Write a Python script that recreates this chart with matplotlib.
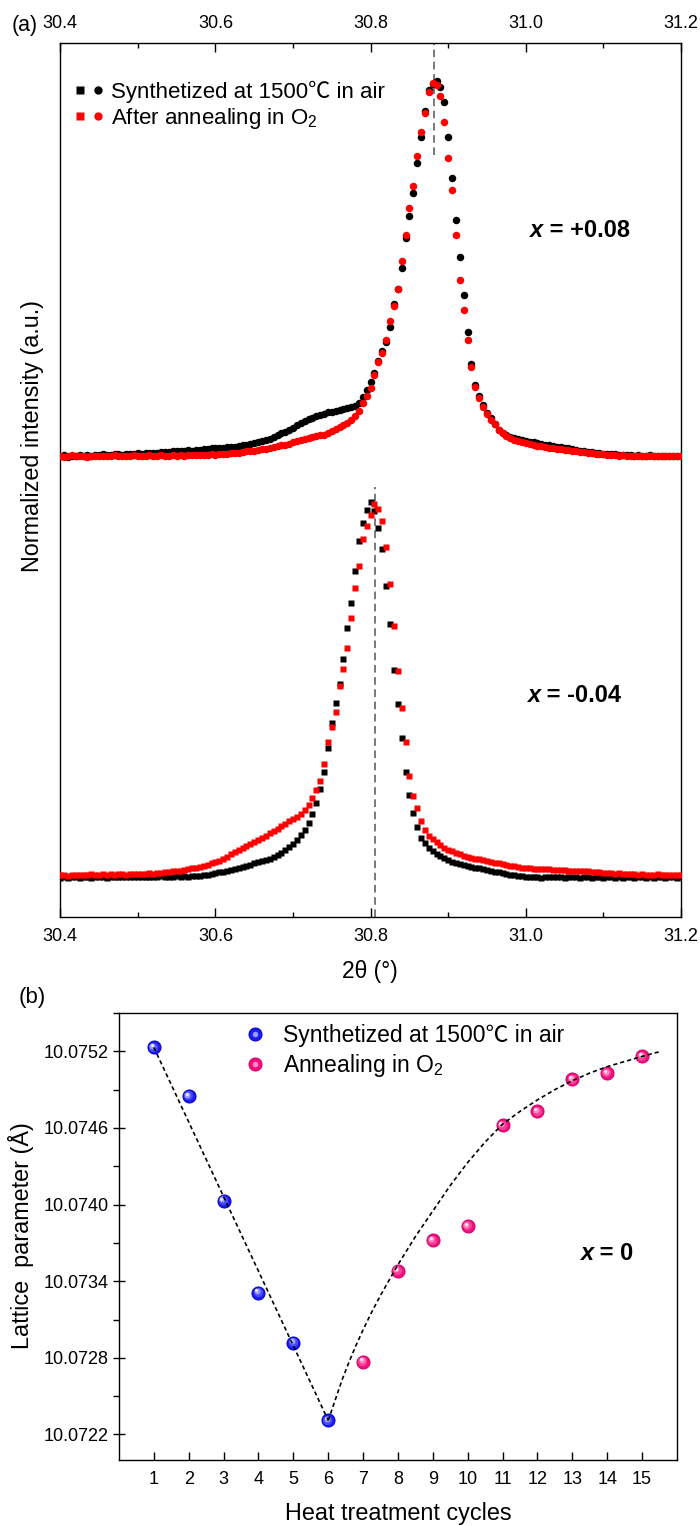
import numpy as np
import matplotlib
matplotlib.use('Agg')
import matplotlib.pyplot as plt
from matplotlib.lines import Line2D
from matplotlib.legend_handler import HandlerTuple
from matplotlib.ticker import MultipleLocator, FixedLocator, FormatStrFormatter
import matplotlib.transforms as mtransforms

plt.rcParams['font.family'] = ['Liberation Sans', 'Noto Sans CJK SC', 'DejaVu Sans']
plt.rcParams['mathtext.fontset'] = 'custom'
plt.rcParams['mathtext.rm'] = 'Liberation Sans'
plt.rcParams['mathtext.it'] = 'Liberation Sans:italic'
plt.rcParams['mathtext.bf'] = 'Liberation Sans:bold'

# ---------------- Panel (a) data: XRD scans (2theta grid 30.40..31.20, step 0.005) ----------------
SCAN_START = 30.40
SCAN_STEP = 0.005
SCAN_POINTS = 161

# x = +0.08 (circles), normalized intensity
top_air = [
    0.000, 0.002, -0.002, 0.001, 0.000, 0.003, 0.000, 0.002, 0.001, 0.003,
    0.002, 0.004, 0.002, 0.003, 0.005, 0.004, 0.003, 0.005, 0.006, 0.005,
    0.007, 0.006, 0.008, 0.007, 0.009, 0.008, 0.010, 0.011, 0.010, 0.012,
    0.013, 0.012, 0.014, 0.015, 0.014, 0.016, 0.017, 0.018, 0.019, 0.020,
    0.020, 0.021, 0.022, 0.023, 0.024, 0.025, 0.027, 0.028, 0.030, 0.032,
    0.034, 0.037, 0.040, 0.042, 0.046, 0.050, 0.055, 0.060, 0.065, 0.069,
    0.075, 0.082, 0.088, 0.093, 0.098, 0.102, 0.106, 0.110, 0.113, 0.116,
    0.118, 0.120, 0.122, 0.124, 0.127, 0.130, 0.134, 0.142, 0.158, 0.175,
    0.198, 0.222, 0.252, 0.280, 0.305, 0.345, 0.405, 0.445, 0.500, 0.580,
    0.640, 0.700, 0.780, 0.850, 0.920, 0.975, 0.993, 1.000, 0.985, 0.945,
    0.850, 0.740, 0.630, 0.530, 0.430, 0.330, 0.245, 0.190, 0.160, 0.135,
    0.115, 0.100, 0.085, 0.068, 0.060, 0.055, 0.051, 0.048, 0.045, 0.042,
    0.039, 0.037, 0.036, 0.034, 0.032, 0.030, 0.028, 0.027, 0.025, 0.024,
    0.022, 0.020, 0.018, 0.016, 0.014, 0.012, 0.011, 0.010, 0.008, 0.007,
    0.006, 0.005, 0.004, 0.004, 0.003, 0.003, 0.002, 0.003, 0.001, 0.002,
    0.001, 0.000, 0.002, 0.001, 0.000, 0.001, -0.001, 0.000, 0.001, 0.000, -0.001,
]
top_o2 = [
    0.001, -0.002, 0.000, 0.002, -0.001, 0.000, 0.001, -0.002, 0.000, 0.001,
    0.000, -0.001, 0.001, 0.000, 0.002, 0.000, -0.001, 0.001, 0.000, 0.002,
    0.001, 0.000, 0.001, 0.002, 0.000, 0.001, 0.002, 0.001, 0.000, 0.002,
    0.001, 0.002, 0.001, 0.002, 0.003, 0.002, 0.002, 0.003, 0.003, 0.004,
    0.003, 0.004, 0.005, 0.006, 0.007, 0.008, 0.009, 0.010, 0.012, 0.013,
    0.014, 0.016, 0.018, 0.019, 0.021, 0.023, 0.026, 0.028, 0.030, 0.033,
    0.036, 0.040, 0.043, 0.045, 0.047, 0.050, 0.052, 0.055, 0.057, 0.062,
    0.067, 0.072, 0.078, 0.083, 0.089, 0.097, 0.106, 0.120, 0.140, 0.160,
    0.180, 0.215, 0.250, 0.275, 0.310, 0.360, 0.400, 0.445, 0.520, 0.590,
    0.660, 0.720, 0.800, 0.865, 0.915, 0.970, 0.995, 0.990, 0.960, 0.890,
    0.795, 0.710, 0.590, 0.470, 0.390, 0.310, 0.238, 0.185, 0.155, 0.130,
    0.112, 0.097, 0.084, 0.070, 0.060, 0.053, 0.047, 0.043, 0.040, 0.037,
    0.034, 0.031, 0.029, 0.027, 0.026, 0.024, 0.022, 0.021, 0.019, 0.018,
    0.016, 0.015, 0.013, 0.012, 0.011, 0.010, 0.008, 0.007, 0.006, 0.005,
    0.004, 0.003, 0.003, 0.002, 0.001, 0.002, 0.000, 0.001, 0.000, 0.001,
    -0.001, 0.000, 0.001, -0.001, 0.000, 0.001, 0.000, -0.001, 0.000, 0.001, 0.000,
]
# x = -0.04 (squares), normalized intensity
bottom_air = [
    -0.002, 0.000, -0.003, -0.001, 0.000, -0.002, -0.001, 0.001, -0.002, 0.000,
    -0.001, 0.000, -0.002, 0.001, -0.001, 0.000, 0.000, -0.001, 0.001, 0.000,
    -0.001, 0.001, 0.000, 0.001, 0.000, 0.001, 0.002, 0.001, 0.000, 0.001,
    0.002, 0.001, 0.002, 0.001, 0.002, 0.002, 0.003, 0.004, 0.006, 0.008,
    0.010, 0.012, 0.014, 0.016, 0.018, 0.021, 0.024, 0.027, 0.030, 0.033,
    0.036, 0.039, 0.042, 0.045, 0.049, 0.054, 0.059, 0.065, 0.072, 0.080,
    0.089, 0.099, 0.112, 0.125, 0.143, 0.168, 0.198, 0.235, 0.280, 0.345,
    0.410, 0.465, 0.515, 0.580, 0.665, 0.730, 0.815, 0.895, 0.945, 0.978,
    1.000, 0.975, 0.930, 0.875, 0.775, 0.675, 0.552, 0.460, 0.370, 0.280,
    0.218, 0.170, 0.132, 0.105, 0.090, 0.078, 0.068, 0.061, 0.055, 0.050,
    0.045, 0.041, 0.037, 0.034, 0.031, 0.029, 0.027, 0.025, 0.023, 0.021,
    0.018, 0.016, 0.014, 0.012, 0.010, 0.008, 0.006, 0.004, 0.003, 0.002,
    0.000, 0.001, -0.001, 0.000, -0.002, 0.000, -0.001, 0.001, -0.001, 0.000,
    -0.002, 0.000, -0.001, 0.000, -0.002, -0.001, 0.000, -0.002, -0.001, 0.000,
    -0.002, -0.001, 0.000, -0.002, -0.001, -0.002, 0.000, -0.001, -0.002, -0.001,
    0.000, -0.002, -0.001, -0.002, 0.000, -0.001, -0.002, -0.001, 0.000, -0.002, -0.001,
]
bottom_o2 = [
    0.004, 0.006, 0.003, 0.005, 0.006, 0.004, 0.006, 0.005, 0.007, 0.005,
    0.006, 0.007, 0.005, 0.007, 0.006, 0.008, 0.007, 0.006, 0.008, 0.007,
    0.009, 0.008, 0.009, 0.010, 0.009, 0.010, 0.011, 0.012, 0.013, 0.015,
    0.016, 0.017, 0.019, 0.021, 0.023, 0.025, 0.027, 0.030, 0.033, 0.036,
    0.039, 0.043, 0.048, 0.053, 0.060, 0.066, 0.071, 0.076, 0.082, 0.087,
    0.094, 0.099, 0.105, 0.110, 0.116, 0.122, 0.129, 0.135, 0.142, 0.148,
    0.154, 0.160, 0.168, 0.178, 0.192, 0.210, 0.232, 0.255, 0.300, 0.360,
    0.400, 0.440, 0.510, 0.555, 0.610, 0.690, 0.770, 0.830, 0.900, 0.935,
    0.965, 0.995, 0.980, 0.950, 0.880, 0.780, 0.670, 0.550, 0.450, 0.360,
    0.270, 0.215, 0.185, 0.150, 0.125, 0.110, 0.100, 0.092, 0.085, 0.078,
    0.072, 0.068, 0.064, 0.060, 0.057, 0.054, 0.051, 0.049, 0.047, 0.045,
    0.042, 0.040, 0.038, 0.036, 0.034, 0.032, 0.030, 0.028, 0.026, 0.025,
    0.024, 0.023, 0.022, 0.022, 0.021, 0.020, 0.020, 0.019, 0.019, 0.018,
    0.018, 0.017, 0.017, 0.016, 0.016, 0.015, 0.015, 0.014, 0.013, 0.012,
    0.011, 0.010, 0.011, 0.009, 0.010, 0.008, 0.009, 0.007, 0.008, 0.006,
    0.007, 0.005, 0.006, 0.005, 0.007, 0.005, 0.006, 0.004, 0.005, 0.006, 0.005,
]
TOP_OFFSET = 1.1227           # vertical offset of the x=+0.08 scans
PEAK_TOP = 30.882             # dashed marker, x = +0.08
PEAK_BOTTOM = 30.806          # dashed marker, x = -0.04
PEAK_TOP_LINE_FROM = 1.925
PEAK_BOTTOM_LINE_TO = 1.04
XTICKS_A = [30.4, 30.6, 30.8, 31.0, 31.2]
LEGEND_A = ['Synthetized at 1500\u2103 in air', 'After annealing in O$_2$']

# ---------------- Panel (b) data ----------------
cycles_air = [1, 2, 3, 4, 5, 6]
lattice_air = [10.07523, 10.07485, 10.07403, 10.07331, 10.07292, 10.07231]
cycles_o2 = [7, 8, 9, 10, 11, 12, 13, 14, 15]
lattice_o2 = [10.07277, 10.07348, 10.07372, 10.07383, 10.07462, 10.07473, 10.07498, 10.07503, 10.07516]
guide1_x = [1, 6]
guide1_y = [10.07523, 10.07231]
guide2_x = [6.0, 6.2, 6.4, 6.6, 6.8, 7.0, 7.25, 7.5, 7.75, 8.0, 8.5, 9.0, 9.5, 10.0, 10.5,
            11.0, 11.5, 12.0, 12.5, 13.0, 13.5, 14.0, 14.5, 15.0, 15.54]
guide2_y = [10.07231, 10.07247, 10.07263, 10.07277, 10.07290, 10.07302, 10.07316, 10.07329,
            10.07341, 10.07353, 10.07375, 10.07395, 10.07415, 10.07433, 10.07449, 10.07463,
            10.07473, 10.07482, 10.07490, 10.07497, 10.07503, 10.07508, 10.07512, 10.07516, 10.07520]
XTICKS_B = list(range(1, 16))
YTICKS_B = [10.0722, 10.0728, 10.0734, 10.0740, 10.0746, 10.0752]
LEGEND_B = ['Synthetized at 1500\u2103 in air', 'Annealing in O$_2$']

two_theta = SCAN_START + SCAN_STEP * np.arange(SCAN_POINTS)

fig = plt.figure(figsize=(7.0, 15.26), dpi=100)
axA = fig.add_axes([0.0861, 0.39908, 0.8867, 0.57274])
axB = fig.add_axes([0.17, 0.04325, 0.7971, 0.29292])

# ---------- panel (a) ----------
ms_c, ms_s = 5.4, 5.0
axA.plot(two_theta, np.array(top_air) + TOP_OFFSET, ls='none', marker='o', ms=ms_c,
         mfc='black', mec='none', zorder=2)
axA.plot(two_theta, np.array(top_o2) + TOP_OFFSET, ls='none', marker='o', ms=ms_c,
         mfc='#ff0000', mec='none', zorder=3)
axA.plot(two_theta, bottom_air, ls='none', marker='s', ms=ms_s, mfc='black', mec='none', zorder=2)
axA.plot(two_theta, bottom_o2, ls='none', marker='s', ms=ms_s, mfc='#ff0000', mec='none', zorder=3)

ylimA = (-0.107, 2.224)
axA.set_xlim(30.4, 31.2)
axA.set_ylim(*ylimA)
axA.vlines(PEAK_TOP, PEAK_TOP_LINE_FROM, ylimA[1], colors='#555555', linestyles=(0, (5, 3)), lw=1.1, zorder=1)
axA.vlines(PEAK_BOTTOM, ylimA[0], PEAK_BOTTOM_LINE_TO, colors='#555555', linestyles=(0, (5, 3)), lw=1.1, zorder=1)

axA.set_xticks(XTICKS_A)
axA.xaxis.set_major_formatter(FormatStrFormatter('%.1f'))
axA.xaxis.set_minor_locator(MultipleLocator(0.1))
axA.set_yticks([])
axA.tick_params(axis='x', which='both', direction='in', top=True, bottom=True,
                labeltop=True, labelbottom=True, labelsize=13, pad=8)
axA.tick_params(axis='x', which='major', length=6.5, width=1.0)
axA.tick_params(axis='x', which='minor', length=3.5, width=1.0)
for s in axA.spines.values():
    s.set_linewidth(1.0)

axA.set_xlabel('2\u03b8 (\u00b0)', fontsize=16.5)
axA.xaxis.set_label_coords(0.499, -0.049)
axA.set_ylabel('Normalized intensity (a.u.)', fontsize=16.8)
axA.yaxis.set_label_coords(-0.026, 0.55)

h_sk = Line2D([], [], ls='none', marker='s', ms=5.5, mfc='black', mec='none')
h_ck = Line2D([], [], ls='none', marker='o', ms=6.0, mfc='black', mec='none')
h_sr = Line2D([], [], ls='none', marker='s', ms=5.5, mfc='#ff0000', mec='none')
h_cr = Line2D([], [], ls='none', marker='o', ms=6.0, mfc='#ff0000', mec='none')
axA.legend([(h_sk, h_ck), (h_sr, h_cr)], LEGEND_A,
           handler_map={tuple: HandlerTuple(ndivide=None, pad=0.25)},
           loc='upper left', bbox_to_anchor=(0.022, 0.957), frameon=False, fontsize=16,
           handlelength=1.35, handletextpad=0.3, labelspacing=0.15, borderaxespad=0, borderpad=0)


def bold_x_label(ax, xf, yf, rest, size):
    t1 = ax.text(xf, yf, 'x', transform=ax.transAxes, fontsize=size, fontweight='bold',
                 fontstyle='italic', va='center', ha='left')
    ax.annotate(rest, xy=(1, 0), xycoords=t1, va='bottom', ha='left',
                fontsize=size, fontweight='bold')


bold_x_label(axA, 0.756, 0.785, ' = +0.08', 17)
bold_x_label(axA, 0.752, 0.254, ' = -0.04', 17)

# ---------- panel (b) ----------
BLUE = ['#0000c8', '#1c1cf0', '#4a4aff', '#9a9aff', '#f0f0ff']
PINK = ['#d0006a', '#f0107f', '#ff3f98', '#ff8cc0', '#fff0f7']


def spheres(ax, x, y, shades, ms, z):
    ax.plot(x, y, ls='none', marker='o', ms=ms, mfc=shades[1], mec=shades[0], mew=0.7, zorder=z)
    layers = [(0.70, -0.8, 0.8), (0.45, -1.5, 1.5), (0.22, -2.2, 2.2)]
    for k, ((frac, dx, dy), col) in enumerate(zip(layers, shades[2:])):
        tr = mtransforms.offset_copy(ax.transData, fig=ax.figure, x=dx, y=dy, units='dots')
        ax.plot(x, y, ls='none', marker='o', ms=ms * frac, mfc=col, mec='none',
                transform=tr, zorder=z + 0.1 * (k + 1))


spheres(axB, cycles_air, lattice_air, BLUE, 9.4, 3)
spheres(axB, cycles_o2, lattice_o2, PINK, 9.4, 3)
axB.plot(guide1_x, guide1_y, color='black', ls=(0, (2.5, 1.8)), lw=1.2, zorder=5)
axB.plot(guide2_x, guide2_y, color='black', ls=(0, (2.5, 1.8)), lw=1.2, zorder=5)

axB.set_xlim(0, 16)
axB.set_ylim(10.0720, 10.0755)
axB.set_xticks(XTICKS_B)
axB.yaxis.set_major_locator(FixedLocator(YTICKS_B))
axB.yaxis.set_major_formatter(FormatStrFormatter('%.4f'))
axB.yaxis.set_minor_locator(FixedLocator([v + 0.0003 for v in YTICKS_B]))
axB.tick_params(axis='x', which='major', direction='in', length=6, width=1.0, labelsize=13, pad=8)
axB.tick_params(axis='y', which='major', direction='inout', length=9, width=1.0, labelsize=13, pad=3)
axB.tick_params(axis='y', which='minor', direction='out', length=4.5, width=1.0)
for s in axB.spines.values():
    s.set_linewidth(1.0)

axB.set_xlabel('Heat treatment cycles', fontsize=16.8)
axB.xaxis.set_label_coords(0.5, -0.094)
axB.set_ylabel('Lattice  parameter (\u00c5)', fontsize=16.8)
axB.yaxis.set_label_coords(-0.152, 0.503)

lb1 = Line2D([], [], ls='none', marker='o', ms=9.4, mfc=BLUE[1], mec=BLUE[0], mew=0.7)
lb2 = Line2D([], [], ls='none', marker='o', ms=4.0, mfc=BLUE[3], mec='none')
lp1 = Line2D([], [], ls='none', marker='o', ms=9.4, mfc=PINK[1], mec=PINK[0], mew=0.7)
lp2 = Line2D([], [], ls='none', marker='o', ms=4.0, mfc=PINK[3], mec='none')
axB.legend([(lb1, lb2), (lp1, lp2)], LEGEND_B,
           handler_map={tuple: HandlerTuple(ndivide=1)},
           loc='upper left', bbox_to_anchor=(0.224, 0.975), frameon=False, fontsize=16.5,
           handlelength=1.0, handletextpad=0.7, labelspacing=0.2, borderaxespad=0, borderpad=0)

bold_x_label(axB, 0.826, 0.461, ' = 0', 17)

fig.text(25 / 700, 1 - 25 / 1526, '(a)', fontsize=15.5, ha='center', va='center')
fig.text(32 / 700, 1 - 997 / 1526, '(b)', fontsize=16, ha='center', va='center')

fig.savefig('out.png', dpi=100)
